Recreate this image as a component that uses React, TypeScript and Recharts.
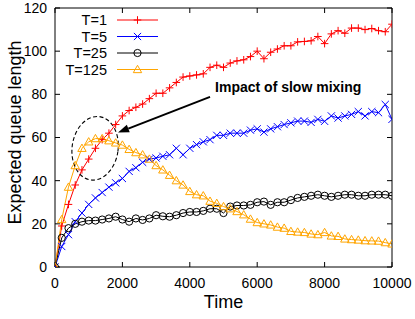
import React from 'react';
import { LineChart, Line, XAxis, YAxis, Legend, ReferenceLine, ReferenceDot } from 'recharts';

const times = [0, 200, 400, 600, 800, 1000, 1200, 1400, 1600, 1800, 2000, 2200, 2400, 2600, 2800, 3000, 3200, 3400, 3600, 3800, 4000, 4200, 4400, 4600, 4800, 5000, 5200, 5400, 5600, 5800, 6000, 6200, 6400, 6600, 6800, 7000, 7200, 7400, 7600, 7800, 8000, 8200, 8400, 8600, 8800, 9000, 9200, 9400, 9600, 9800, 10000];

const seriesT1 = [0, 19, 29, 38, 45, 50, 55, 59, 62, 66, 70, 72.5, 74, 75.5, 78, 80.5, 80.5, 83, 85.5, 88, 88.5, 89, 89.5, 92.5, 93.5, 92.5, 94.5, 95.5, 96, 97.5, 100, 96.5, 99.5, 101, 102.5, 102.5, 104.3, 104.5, 104.8, 106.8, 103.5, 108, 109.5, 108.3, 110.7, 110.7, 110, 110.5, 109.5, 109, 112.5];

const seriesT5 = [0, 9.5, 15, 21, 25, 29, 32, 34.5, 37, 39, 41, 44.3, 46, 48.5, 50, 50.5, 51.3, 52, 55, 52, 55, 56.7, 58, 59, 61, 61, 62, 62, 62, 63.4, 64, 62.5, 64, 65, 66, 66.8, 67.6, 67.6, 67, 68.4, 67.5, 70, 69, 70, 70.7, 72, 70, 72, 71.5, 75.3, 68.4];

const seriesT25 = [0, 13.5, 18, 20, 21, 21.5, 21.5, 22, 22.5, 23.3, 22, 21, 22.5, 21.8, 22.5, 24, 23.5, 23.3, 24, 25, 25.5, 25.5, 26, 27, 27, 25, 28, 28.5, 28.5, 28.8, 30, 30.3, 28.8, 30, 30, 31, 32, 32.5, 33, 33.5, 33, 32.5, 33, 33.5, 33.5, 33, 33, 33.5, 33.5, 33.5, 33];

const seriesT125 = [0, 22, 37, 47, 55, 58, 59.5, 59.5, 58.5, 57.5, 56.5, 54.5, 53, 52, 50, 47, 45, 42.5, 40, 38, 35, 33.5, 33, 30.5, 29.5, 28, 27, 25.7, 24.2, 22.2, 20.6, 20, 19.5, 18.5, 18, 16.5, 16.2, 16, 15.3, 15, 16, 14.4, 14.2, 13, 12.7, 12.5, 12.2, 12.1, 12, 11.3, 10.7];

const xTicks = [0, 2000, 4000, 6000, 8000, 10000];
const yTicks = [0, 20, 40, 60, 80, 100, 120];

const seriesNames = ['T=1', 'T=5', 'T=25', 'T=125'];
const seriesKeys = ['t1', 't5', 't25', 't125'];
const seriesColors = ['#ff0000', '#0000ff', '#000000', '#ffa500'];
const seriesMarkers = ['plus', 'cross', 'circle', 'triangle'];

const data = times.map((t, i) => ({
  t,
  t1: seriesT1[i],
  t5: seriesT5[i],
  t25: seriesT25[i],
  t125: seriesT125[i],
}));

const FONT = '"Liberation Sans", Arial, Helvetica, sans-serif';

function Marker({ kind, cx, cy, color }: { kind: string; cx: number; cy: number; color: string }) {
  if (cx == null || cy == null || isNaN(cx) || isNaN(cy)) return null;
  const s = 3.8;
  if (kind === 'plus') {
    return (
      <g stroke={color} strokeWidth={1} fill="none">
        <line x1={cx - s} y1={cy} x2={cx + s} y2={cy} />
        <line x1={cx} y1={cy - s} x2={cx} y2={cy + s} />
      </g>
    );
  }
  if (kind === 'cross') {
    const c = 3.6;
    return (
      <g stroke={color} strokeWidth={1} fill="none">
        <line x1={cx - c} y1={cy - c} x2={cx + c} y2={cy + c} />
        <line x1={cx - c} y1={cy + c} x2={cx + c} y2={cy - c} />
      </g>
    );
  }
  if (kind === 'circle') {
    return <circle cx={cx} cy={cy} r={3.6} stroke={color} strokeWidth={1} fill="none" />;
  }
  const h = 4.2;
  return (
    <polygon
      points={`${cx},${cy - h} ${cx - h},${cy + h * 0.75} ${cx + h},${cy + h * 0.75}`}
      stroke={color}
      strokeWidth={1}
      fill="none"
    />
  );
}

function makeDot(kind: string, color: string) {
  return (props: any) => (
    <Marker key={`${kind}-${props.index}`} kind={kind} cx={props.cx} cy={props.cy} color={color} />
  );
}

function LegendContent() {
  const textRight = 107;
  const lineX1 = 117;
  const lineX2 = 158;
  const rows = [20, 36.5, 53, 69.5];
  return (
    <svg width={200} height={85} style={{ display: 'block' }}>
      {seriesNames.map((name, i) => (
        <g key={name}>
          <text
            x={textRight}
            y={rows[i] + 5}
            textAnchor="end"
            fontFamily={FONT}
            fontSize={14.5}
            fill="#000"
          >
            {name}
          </text>
          <line x1={lineX1} y1={rows[i]} x2={lineX2} y2={rows[i]} stroke={seriesColors[i]} strokeWidth={1} />
          <Marker kind={seriesMarkers[i]} cx={(lineX1 + lineX2) / 2} cy={rows[i]} color={seriesColors[i]} />
        </g>
      ))}
    </svg>
  );
}

function ArrowShape(props: any) {
  const { x1, y1, x2, y2 } = props;
  if ([x1, y1, x2, y2].some((v) => v == null || isNaN(v))) return null;
  const dx = x2 - x1;
  const dy = y2 - y1;
  const len = Math.sqrt(dx * dx + dy * dy);
  const ux = dx / len;
  const uy = dy / len;
  const headL = 11;
  const headW = 4;
  const bx = x2 - ux * headL;
  const by = y2 - uy * headL;
  const px = -uy;
  const py = ux;
  return (
    <g>
      <line x1={x1} y1={y1} x2={bx} y2={by} stroke="#000" strokeWidth={2} />
      <polygon
        points={`${x2},${y2} ${bx + px * headW},${by + py * headW} ${bx - px * headW},${by - py * headW}`}
        fill="#000"
      />
    </g>
  );
}

function EllipseShape(props: any) {
  const { cx, cy } = props;
  if (cx == null || cy == null) return null;
  return (
    <ellipse
      cx={cx}
      cy={cy}
      rx={23}
      ry={32}
      transform={`rotate(8 ${cx} ${cy})`}
      fill="none"
      stroke="#000"
      strokeWidth={1.1}
      strokeDasharray="4 2.5"
    />
  );
}

function NoteShape(props: any) {
  const { cx, cy } = props;
  if (cx == null || cy == null) return null;
  return (
    <text x={cx} y={cy} fontFamily={FONT} fontWeight="bold" fontSize={14} fill="#000">
      Impact of slow mixing
    </text>
  );
}

function YLabel(props: any) {
  const vb = props.viewBox || {};
  const x = 15;
  const y = (vb.y ?? 8) + (vb.height ?? 259) / 2 - 5;
  return (
    <text
      x={x}
      y={y}
      transform={`rotate(-90 ${x} ${y})`}
      textAnchor="middle"
      dominantBaseline="central"
      fontFamily={FONT}
      fontSize={18}
      fill="#000"
    >
      Expected queue length
    </text>
  );
}

export default function App() {
  return (
    <div style={{ position: 'absolute', left: 0, top: 0, width: 415, height: 319, background: '#fff' }}>
      <LineChart
        width={415}
        height={319}
        data={data}
        margin={{ top: 7, right: 22, bottom: 7, left: 0 }}
      >
        <XAxis
          dataKey="t"
          type="number"
          domain={[0, 10000]}
          ticks={xTicks}
          allowDataOverflow
          height={45}
          stroke="#000"
          tickSize={-5}
          tickMargin={16}
          tick={{ fontSize: 14, fill: '#000', fontFamily: FONT }}
          label={{ value: 'Time', position: 'insideBottom', offset: 4, fontSize: 18, fill: '#000', fontFamily: FONT }}
        />
        <XAxis
          xAxisId="top"
          orientation="top"
          type="number"
          dataKey="t"
          domain={[0, 10000]}
          ticks={xTicks}
          allowDataOverflow
          height={1}
          stroke="#000"
          tickSize={-5}
          tickFormatter={() => ''}
        />
        <YAxis
          type="number"
          domain={[0, 120]}
          ticks={yTicks}
          allowDataOverflow
          width={55}
          stroke="#000"
          tickSize={-5}
          tickMargin={13}
          tick={{ fontSize: 14, fill: '#000', fontFamily: FONT }}
          label={<YLabel />}
        />
        <YAxis
          yAxisId="right"
          orientation="right"
          type="number"
          domain={[0, 120]}
          ticks={yTicks}
          allowDataOverflow
          width={1}
          stroke="#000"
          tickSize={-5}
          tickFormatter={() => ''}
        />
        <Legend
          layout="vertical"
          align="center"
          verticalAlign="middle"
          content={<LegendContent />}
          wrapperStyle={{ position: 'absolute', left: 0, top: 0, width: 200, height: 85 }}
        />
        {seriesKeys.map((k, i) => (
          <Line
            key={k}
            dataKey={k}
            name={seriesNames[i]}
            stroke={seriesColors[i]}
            strokeWidth={1}
            dot={makeDot(seriesMarkers[i], seriesColors[i])}
            activeDot={false}
            isAnimationActive={false}
          />
        ))}
        <ReferenceDot x={1190} y={55} r={0} shape={<EllipseShape />} ifOverflow="visible" />
        <ReferenceLine
          segment={[{ x: 4600, y: 78.8 }, { x: 1870, y: 62.3 }]}
          shape={<ArrowShape />}
          ifOverflow="visible"
        />
        <ReferenceDot x={4750} y={81} r={0} shape={<NoteShape />} ifOverflow="visible" />
      </LineChart>
    </div>
  );
}
